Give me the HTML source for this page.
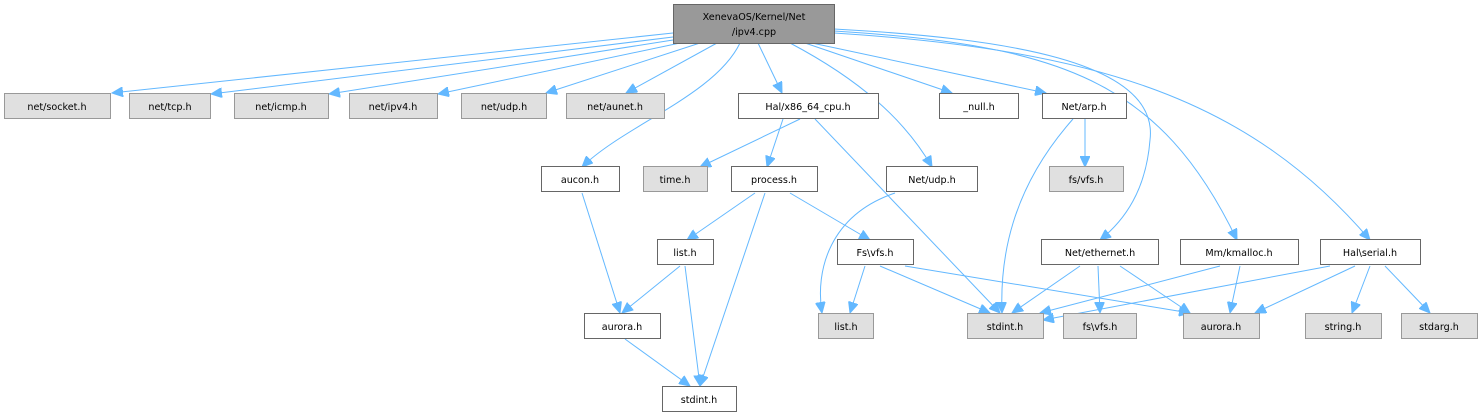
<!DOCTYPE html>
<html><head><meta charset="utf-8"><style>
html,body{margin:0;padding:0;background:#fff;width:1483px;height:417px;overflow:hidden}
text{font-family:"DejaVu Sans","Liberation Sans",sans-serif;font-size:9.6px;fill:#000;text-anchor:middle}
.g{fill:#e0e0e0;stroke:#999}
.w{fill:#fff;stroke:#666}
path{fill:none;stroke:#63b8ff;stroke-width:1}
</style></head><body>
<svg width="1483" height="417" xmlns="http://www.w3.org/2000/svg">
<defs><marker id="a" markerUnits="userSpaceOnUse" markerWidth="12" markerHeight="10" refX="11" refY="5" orient="auto"><polygon points="0,0 11,5 0,10" fill="#63b8ff" stroke="#63b8ff"/></marker></defs>
<g marker-end="url(#a)">
<path d="M673,33 L112,93"/>
<path d="M673,37 L211,94"/>
<path d="M673,40 L329,94"/>
<path d="M680,43 L438,94"/>
<path d="M700,43 L546,93"/>
<path d="M717,43 L626,93"/>
<path d="M740,43 C715,95 625,125 582,167"/>
<path d="M758,43 L782,93"/>
<path d="M790,43 C860,80 905,120 932,167"/>
<path d="M805,43 L952,93"/>
<path d="M812,43 L1046,93"/>
<path d="M834,29 C1000,38 1160,60 1150,140 C1146,190 1125,220 1100,240"/>
<path d="M834,31 C1060,45 1160,80 1237,240"/>
<path d="M834,33 C1100,50 1250,100 1370,240"/>
<path d="M800,119 L700,167"/>
<path d="M783,119 L767,167"/>
<path d="M815,119 L1000,313"/>
<path d="M755,193 L687,240"/>
<path d="M790,193 L870,240"/>
<path d="M765,193 L700,386"/>
<path d="M582,193 L620,313"/>
<path d="M895,193 C830,215 815,270 822,313"/>
<path d="M1073,119 C1010,190 1000,260 1002,313"/>
<path d="M1085,119 L1085,167"/>
<path d="M680,266 L622,313"/>
<path d="M685,266 L700,386"/>
<path d="M625,339 L690,386"/>
<path d="M865,266 L850,313"/>
<path d="M880,266 L990,313"/>
<path d="M905,266 L1190,313"/>
<path d="M1080,266 L1012,313"/>
<path d="M1098,266 L1100,313"/>
<path d="M1120,266 L1190,313"/>
<path d="M1220,266 L1040,313"/>
<path d="M1240,266 L1230,313"/>
<path d="M1330,266 L1043,320"/>
<path d="M1355,266 L1255,313"/>
<path d="M1370,266 L1352,313"/>
<path d="M1385,266 L1430,313"/>
</g>
<rect x="673.5" y="4.5" width="161" height="39" fill="#999" stroke="#666"/>
<text x="754" y="20">XenevaOS/Kernel/Net</text><text x="754" y="35">/ipv4.cpp</text>
<rect class="g" x="4.5" y="93.5" width="106" height="25"/><text x="57" y="110">net/socket.h</text>
<rect class="g" x="129.5" y="93.5" width="81" height="25"/><text x="170" y="110">net/tcp.h</text>
<rect class="g" x="234.5" y="93.5" width="94" height="25"/><text x="281" y="110">net/icmp.h</text>
<rect class="g" x="349.5" y="93.5" width="88" height="25"/><text x="393" y="110">net/ipv4.h</text>
<rect class="g" x="461.5" y="93.5" width="85" height="25"/><text x="504" y="110">net/udp.h</text>
<rect class="g" x="566.5" y="93.5" width="98" height="25"/><text x="615" y="110">net/aunet.h</text>
<rect class="w" x="738.5" y="93.5" width="140" height="25"/><text x="808" y="110">Hal/x86_64_cpu.h</text>
<rect class="w" x="939.5" y="93.5" width="79" height="25"/><text x="979" y="110">_null.h</text>
<rect class="w" x="1042.5" y="93.5" width="84" height="25"/><text x="1084" y="110">Net/arp.h</text>
<rect class="w" x="541.5" y="166.5" width="78" height="25"/><text x="580" y="183">aucon.h</text>
<rect class="g" x="643.5" y="166.5" width="64" height="25"/><text x="675" y="183">time.h</text>
<rect class="w" x="731.5" y="166.5" width="86" height="25"/><text x="774" y="183">process.h</text>
<rect class="w" x="886.5" y="166.5" width="91" height="25"/><text x="932" y="183">Net/udp.h</text>
<rect class="g" x="1049.5" y="166.5" width="74" height="25"/><text x="1086" y="183">fs/vfs.h</text>
<rect class="w" x="657.5" y="239.5" width="56" height="25"/><text x="685" y="256">list.h</text>
<rect class="w" x="837.5" y="239.5" width="76" height="25"/><text x="875" y="256">Fs\vfs.h</text>
<rect class="w" x="1041.5" y="239.5" width="117" height="25"/><text x="1100" y="256">Net/ethernet.h</text>
<rect class="w" x="1180.5" y="239.5" width="118" height="25"/><text x="1239" y="256">Mm/kmalloc.h</text>
<rect class="w" x="1320.5" y="239.5" width="100" height="25"/><text x="1370" y="256">Hal\serial.h</text>
<rect class="w" x="584.5" y="313.5" width="76" height="25"/><text x="622" y="330">aurora.h</text>
<rect class="g" x="818.5" y="313.5" width="55" height="25"/><text x="846" y="330">list.h</text>
<rect class="g" x="967.5" y="313.5" width="76" height="25"/><text x="1005" y="330">stdint.h</text>
<rect class="g" x="1063.5" y="313.5" width="73" height="25"/><text x="1100" y="330">fs\vfs.h</text>
<rect class="g" x="1183.5" y="313.5" width="76" height="25"/><text x="1221" y="330">aurora.h</text>
<rect class="g" x="1305.5" y="313.5" width="76" height="25"/><text x="1343" y="330">string.h</text>
<rect class="g" x="1401.5" y="313.5" width="76" height="25"/><text x="1439" y="330">stdarg.h</text>
<rect class="w" x="662.5" y="386.5" width="74" height="25"/><text x="699" y="403">stdint.h</text>
</svg>
</body></html>
